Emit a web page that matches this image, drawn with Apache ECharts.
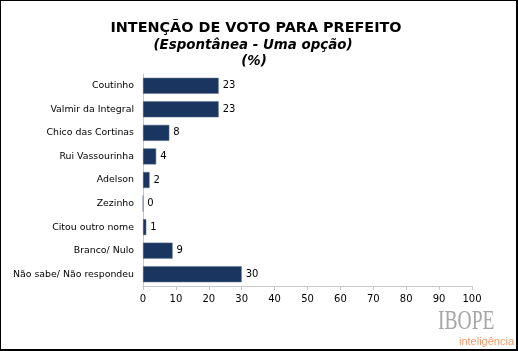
<!DOCTYPE html>
<html>
<head>
<meta charset="utf-8">
<script src="https://cdn.jsdelivr.net/npm/echarts@6/dist/echarts.min.js"></script>
<style>
  html, body { margin: 0; padding: 0; background: #fff; }
  #chart { width: 518px; height: 351px; box-sizing: border-box; border: 1px solid #000; border-right-width: 2px; border-bottom-width: 2px; }
</style>
</head>
<body>
<div id="chart"></div>
<script>
  // categories top to bottom
  var categories = ['Coutinho', 'Valmir da Integral', 'Chico das Cortinas', 'Rui Vassourinha', 'Adelson', 'Zezinho', 'Citou outro nome', 'Branco/ Nulo', 'Não sabe/ Não respondeu'];
  var values = [23, 23, 8, 4, 2, 0, 1, 9, 30];
  var xTicks = [0, 10, 20, 30, 40, 50, 60, 70, 80, 90, 100];

  var myChart = echarts.init(document.getElementById('chart'));
  myChart.setOption({
    animation: false,
    title: [{
      text: 'INTENÇÃO DE VOTO PARA PREFEITO',
      left: 250,
      textAlign: 'center',
      top: 15,
      textStyle: { fontFamily: 'DejaVu Sans', fontSize: 14.4, fontWeight: 'bold', color: '#000' }
    }, {
      text: '(Espontânea - Uma opção)',
      left: 247,
      textAlign: 'center',
      top: 33,
      textStyle: { fontFamily: 'DejaVu Sans', fontSize: 13.4, fontWeight: 'bold', fontStyle: 'italic', color: '#000' }
    }, {
      text: '(%)',
      left: 248,
      textAlign: 'center',
      top: 49,
      textStyle: { fontFamily: 'DejaVu Sans', fontSize: 13.4, fontWeight: 'bold', fontStyle: 'italic', color: '#000' }
    }],
    grid: {
      left: 142,
      right: 44,
      top: 73,
      bottom: 63
    },
    xAxis: {
      type: 'value',
      min: 0,
      max: 100,
      interval: 10,
      axisLine: { show: true, lineStyle: { color: '#c8c8c8' } },
      axisTick: { show: true, length: 4, lineStyle: { color: '#c8c8c8' } },
      splitLine: { show: false },
      axisLabel: {
        color: '#000',
        fontFamily: 'DejaVu Sans',
        fontSize: 10,
        margin: 8,
        formatter: function (v) { return xTicks.indexOf(v) >= 0 ? String(v) : ''; }
      }
    },
    yAxis: {
      type: 'category',
      inverse: true,
      data: categories,
      axisLine: { show: true, lineStyle: { color: '#c8c8c8' } },
      axisTick: { show: false },
      axisLabel: { color: '#000', fontFamily: 'DejaVu Sans', fontSize: 9.4, margin: 9 }
    },
    series: [{
      type: 'bar',
      data: values,
      barCategoryGap: '32%',
      itemStyle: { color: '#1a355f', borderColor: '#5f7493', borderWidth: 0.5 },
      label: {
        show: true,
        position: 'right',
        distance: 4,
        color: '#000',
        fontFamily: 'DejaVu Sans',
        fontSize: 10
      }
    }],
    graphic: [{
      type: 'text',
      left: 437,
      top: 308,
      scaleX: 0.85,
      scaleY: 1.15,
      style: { text: 'IBOPE', fill: '#a6a6a6', font: '23px "Liberation Serif"' }
    }, {
      type: 'text',
      left: 458,
      top: 335,
      style: { text: 'inteligência', fill: '#f39b6d', font: '11px "Liberation Sans"' }
    }]
  });
</script>
</body>
</html>
